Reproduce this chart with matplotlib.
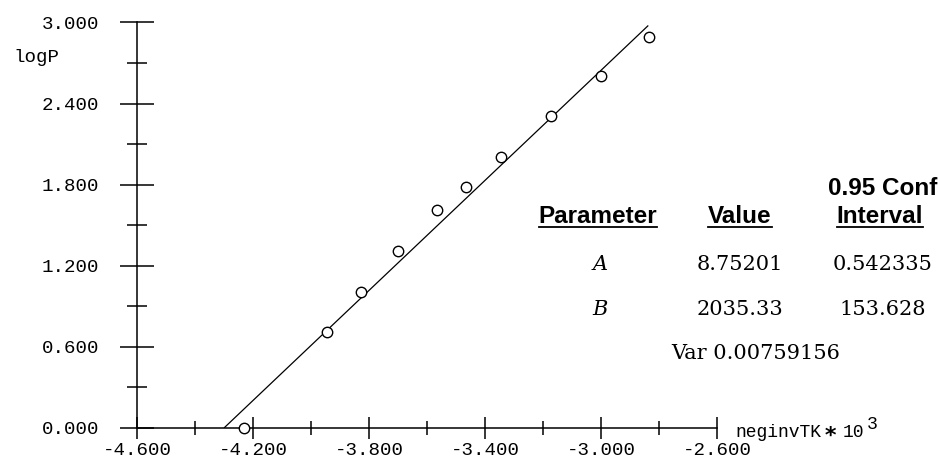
import numpy as np
import matplotlib
matplotlib.use("Agg")
import matplotlib.pyplot as plt
from matplotlib.ticker import MultipleLocator, FormatStrFormatter
from matplotlib.lines import Line2D

# ---- data ----
neginvTK = [-4.230, -3.946, -3.827, -3.699, -3.567, -3.467, -3.345, -3.172, -3.000, -2.833]
logP = [0.000, 0.711, 1.007, 1.311, 1.613, 1.785, 2.007, 2.309, 2.605, 2.892]
param_names = ["A", "B"]
param_values = ["8.75201", "2035.33"]
param_conf = ["0.542335", "153.628"]
var_text = "Var 0.00759156"
A_fit = 8.75201
B_fit = 2035.33
fit_range = [-4.300, -2.837]
x_ticks = [-4.6, -4.2, -3.8, -3.4, -3.0, -2.6]
y_ticks = [0.0, 0.6, 1.2, 1.8, 2.4, 3.0]

W, H = 938, 459
fig = plt.figure(figsize=(W / 100, H / 100), dpi=100)

def fx(px):
    return px / W

def fy(py):
    return 1 - py / H

ax = fig.add_axes([fx(137), fy(428), (717 - 137) / W, (428 - 22.5) / H])
ax.set_xlim(-4.6, -2.6)
ax.set_ylim(0, 3.0)
for s in ["top", "right"]:
    ax.spines[s].set_visible(False)
for s in ["left", "bottom"]:
    ax.spines[s].set_linewidth(1.1)
    ax.spines[s].set_color("black")

# fitted line from parameters
xf = np.array(fit_range)
yf = A_fit + B_fit * xf / 1000.0
ax.plot(xf, yf, color="black", lw=0.9, solid_capstyle="butt")
ax.plot(neginvTK, logP, linestyle="none", marker="o", markersize=7.5,
        markerfacecolor="white", markeredgecolor="black", markeredgewidth=1.0,
        clip_on=False, zorder=3)

tick_font = {"family": "Liberation Mono", "size": 13.8}
lab_font = {"family": "Liberation Mono", "size": 13.0}
ax.xaxis.set_minor_locator(MultipleLocator(0.2))
ax.yaxis.set_minor_locator(MultipleLocator(0.3))
ax.set_xticks(x_ticks)
ax.set_yticks(y_ticks)
ax.xaxis.set_major_formatter(FormatStrFormatter("%.3f"))
ax.yaxis.set_major_formatter(FormatStrFormatter("%.3f"))
ax.tick_params(axis="x", which="major", direction="inout", length=16, width=1.1, pad=2)
ax.tick_params(axis="x", which="minor", direction="inout", length=10, width=1.1)
ax.tick_params(axis="y", which="major", direction="inout", length=24, width=1.1, pad=15)
ax.tick_params(axis="y", which="minor", direction="inout", length=14, width=1.1)
for lab in ax.get_xticklabels() + ax.get_yticklabels():
    lab.set_fontfamily("Liberation Mono")
    lab.set_fontsize(13.8)

# axis labels
fig.text(fx(13), fy(62), "logP", ha="left", va="baseline", **tick_font)
fig.text(fx(735), fy(437), "neginvTK", ha="left", va="baseline", **lab_font)
fig.text(fx(824), fy(438), "\u2217", ha="left", va="baseline",
         family=["DejaVu Sans Mono"], size=16, weight="bold")
fig.text(fx(843), fy(437), "10", ha="left", va="baseline", **lab_font)
fig.text(fx(867), fy(429), "3", ha="left", va="baseline", **lab_font)

# parameter table
hdr = {"family": "Liberation Sans", "weight": "bold", "size": 17.5}
ser = {"family": "DejaVu Serif", "size": 15}
fig.text(fx(828), fy(195), "0.95 Confidence", ha="left", va="baseline", **hdr)
h1 = fig.text(fx(598), fy(223), "Parameter", ha="center", va="baseline", **hdr)
h2 = fig.text(fx(740), fy(223), "Value", ha="center", va="baseline", **hdr)
h3 = fig.text(fx(880), fy(223), "Interval", ha="center", va="baseline", **hdr)

rows_y = [270, 315]
for name, val, conf, yy in zip(param_names, param_values, param_conf, rows_y):
    fig.text(fx(600), fy(yy), name, ha="center", va="baseline", style="italic", **ser)
    fig.text(fx(740), fy(yy), val, ha="center", va="baseline", **ser)
    fig.text(fx(883), fy(yy), conf, ha="center", va="baseline", **ser)
fig.text(fx(756), fy(359), var_text, ha="center", va="baseline", **ser)

# underlines for headers
fig.canvas.draw()
r = fig.canvas.get_renderer()
for t in (h1, h2, h3):
    bb = t.get_window_extent(renderer=r)
    y_ul = fy(227)
    fig.add_artist(Line2D([bb.x0 / W, bb.x1 / W], [y_ul, y_ul],
                          transform=fig.transFigure, color="black", lw=1.3))

fig.savefig("out.png", dpi=100, facecolor="white")
